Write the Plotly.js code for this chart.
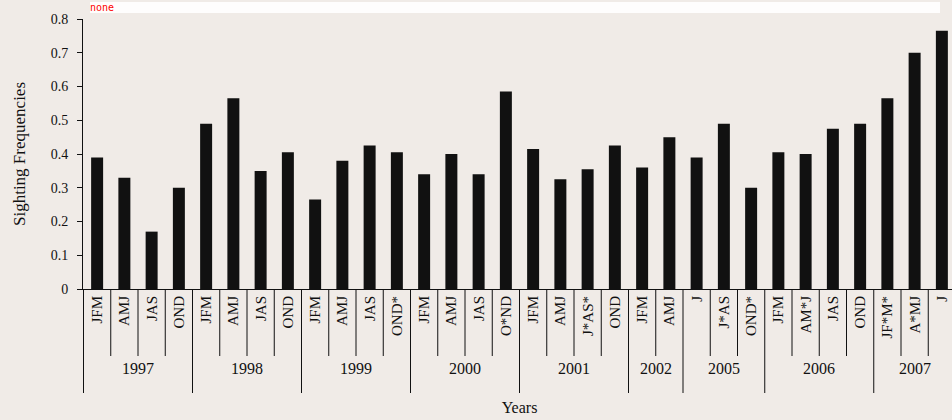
<!DOCTYPE html>
<html>
<head>
<meta charset="utf-8">
<script src="https://cdn.plot.ly/plotly-3.0.1.min.js"></script>
<style>
html,body{margin:0;padding:0;overflow:hidden;background:#f0ebe7;}
#chart{width:958px;height:420px;}
#dbg{position:absolute;left:90px;top:2px;font:10px monospace;color:red;background:rgba(255,255,255,0.9);width:850px;white-space:pre-wrap;word-break:break-all}
</style>
</head>
<body>
<div id="chart"></div>
<div id="dbg"></div>
<script>
const years = ["1997","1997","1997","1997","1998","1998","1998","1998","1999","1999","1999","1999","2000","2000","2000","2000","2001","2001","2001","2001","2002","2002","2005","2005","2005","2006","2006","2006","2006","2007","2007","2007"];
const quarters = ["JFM","AMJ","JAS","OND","JFM","AMJ","JAS","OND","JFM","AMJ","JAS","OND*","JFM","AMJ","JAS","O*ND","JFM","AMJ","J*AS*","OND","JFM","AMJ","J","J*AS","OND*","JFM","AM*J","JAS","OND","JF*M*","A*MJ","J"];
const frequencies = [0.39,0.33,0.17,0.30,0.49,0.565,0.35,0.405,0.265,0.38,0.425,0.405,0.34,0.40,0.34,0.585,0.415,0.325,0.355,0.425,0.36,0.45,0.39,0.49,0.30,0.405,0.40,0.475,0.49,0.565,0.70,0.765];
const yTicks = [0, 0.1, 0.2, 0.3, 0.4, 0.5, 0.6, 0.7, 0.8];
const yTickText = ["0", "0.1", "0.2", "0.3", "0.4", "0.5", "0.6", "0.7", "0.8"];
const serif = "Liberation Serif, Times New Roman, serif";
const ink = "#111111";
const keys = years.map((y, i) => y + " " + quarters[i]);
const groups = [];
years.forEach((y, i) => {const g = groups[groups.length - 1]; if (g && g.year === y) g.end = i; else groups.push({year: y, start: i, end: i});});
const PLOT_H = 270;
const shapes = [];
const groupStarts = new Set(groups.map(g => g.start));
for (let i = 0; i <= keys.length; i++) {
  const isGroup = groupStarts.has(i) || i === keys.length;
  shapes.push({type: "line", xref: "x", yref: "paper", x0: i - 0.5, x1: i - 0.5, y0: 0, y1: isGroup ? -104/PLOT_H : -67/PLOT_H, line: {color: ink, width: 1}});
}
const annotations = groups.map(g => ({xref: "x", yref: "paper", x: (g.start + g.end) / 2, y: -90/PLOT_H, text: g.year, showarrow: false, font: {family: serif, size: 16, color: ink}}));
const layout = {width: 958, height: 420, paper_bgcolor: "#f0ebe7", plot_bgcolor: "#f0ebe7", margin: {l: 83, r: 2, t: 19, b: 131}, bargap: 0.56, showlegend: false, font: {family: serif, color: ink, size: 14}, shapes: shapes, annotations: annotations,
  xaxis: {type: "category", tickmode: "array", tickvals: keys, ticktext: quarters, showline: true, linecolor: ink, ticks: "", tickangle: -90, tickfont: {family: serif, size: 15, color: ink}, showgrid: false, zeroline: false, automargin: false, title: {text: "Years", font: {family: serif, size: 16, color: ink}, standoff: 64}},
  yaxis: {range: [0, 0.8], tickvals: yTicks, ticktext: yTickText, showline: true, linecolor: ink, ticks: "outside", ticklen: 5, tickcolor: ink, ticklabelstandoff: 6, tickfont: {family: serif, size: 14, color: ink}, showgrid: false, zeroline: false, automargin: false, title: {text: "Sighting Frequencies", font: {family: serif, size: 17, color: ink}, standoff: 20}}};
Plotly.newPlot("chart", [{type: "bar", x: keys, y: frequencies, marker: {color: ink}}], layout, {displayModeBar: false, staticPlot: true}).then(() => {
  const out = [];
  document.querySelectorAll("#chart *").forEach(el => {
    if (!el.getBoundingClientRect) return;
    const r = el.getBoundingClientRect();
    if (r.width > 200 && r.top <= 362 && r.bottom >= 359 && el.children.length === 0) {
      out.push(el.tagName + "." + (el.getAttribute("class")||"") + "<" + (el.parentNode.getAttribute("class")||"") + "> " + Math.round(r.left)+","+Math.round(r.top)+" "+Math.round(r.width)+"x"+Math.round(r.height) + " d=" + (el.getAttribute("d")||"").slice(0,40) + " st=" + (el.style.stroke||"") + " fill=" + (el.style.fill||""));
    }
  });
  document.getElementById("dbg").textContent = out.join("\n") || "none";
});
</script>
</body>
</html>
